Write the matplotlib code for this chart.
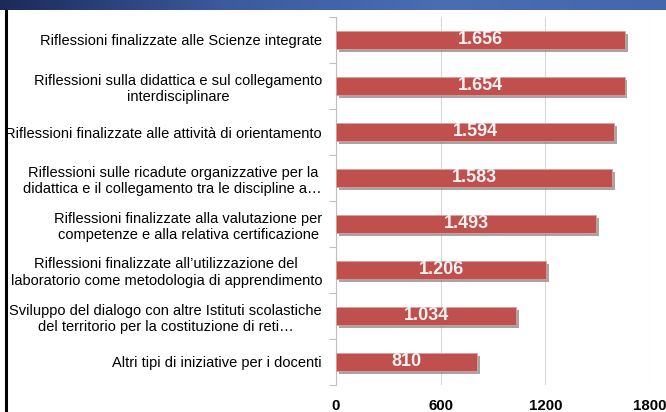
import numpy as np
import matplotlib
matplotlib.use("Agg")
from matplotlib import pyplot as plt
from matplotlib import patheffects as pe
from matplotlib.colors import LinearSegmentedColormap

categorie = [
    "Riflessioni finalizzate alle Scienze integrate",
    "Riflessioni sulla didattica e sul collegamento\ninterdisciplinare",
    "Riflessioni finalizzate alle attività di orientamento",
    "Riflessioni sulle ricadute organizzative per la\ndidattica e il collegamento tra le discipline a…",
    "Riflessioni finalizzate alla valutazione per\ncompetenze e alla relativa certificazione",
    "Riflessioni finalizzate all\u2019utilizzazione del\nlaboratorio come metodologia di apprendimento",
    "Sviluppo del dialogo con altre Istituti scolastiche\ndel territorio per la costituzione di reti…",
    "Altri tipi di iniziative per i docenti",
]
valori = [1656, 1654, 1594, 1583, 1493, 1206, 1034, 810]
x_ticks = [0, 600, 1200, 1800]

plt.rcParams['font.family'] = ['Liberation Sans', 'DejaVu Sans']

fig = plt.figure(figsize=(6.66, 4.12), dpi=100)

# banner in alto
banner = fig.add_axes([0, 1 - 10 / 412, 1, 10 / 412])
cmap = LinearSegmentedColormap.from_list("banner", ["#1b2a5a", "#3c5a9e", "#4a6db3", "#4566ab"])
banner.imshow(np.linspace(0, 1, 256).reshape(1, -1), aspect='auto', cmap=cmap)
banner.axis('off')

# bordo nero a sinistra
fig.add_artist(plt.Line2D([6 / 666, 6 / 666], [0, 1 - 10 / 412], color='black', lw=2.2,
                          transform=fig.transFigure, zorder=0))

ax = fig.add_axes([336 / 666, 1 - 385 / 412, 314 / 666, 368 / 412])
y = np.arange(len(categorie))
bars = ax.barh(y, valori, height=0.39, color='#c0504d', edgecolor='#d9a09e', linewidth=0.6, zorder=3)
for b in bars:
    b.set_path_effects([pe.SimplePatchShadow(offset=(2, -2), shadow_rgbFace='#7f7f7f', alpha=0.7),
                        pe.Normal()])

for yi, v in zip(y, valori):
    testo = "{:,}".format(v).replace(",", ".")
    ax.text(v / 2, yi, testo, ha='center', va='center', color='#f2f2f2',
            fontsize=13, fontweight='bold', zorder=4)

ax.set_ylim(len(categorie) - 0.5, -0.5)
ax.set_xlim(0, 1800)
ax.set_xticks(x_ticks)
ax.set_xticklabels([str(t) for t in x_ticks], fontsize=10.8, fontweight='bold')
ax.tick_params(axis='x', length=0, pad=10)

ax.set_yticks(y)
ax.set_yticklabels(categorie, fontsize=10.5, ha='right', multialignment='center')
ax.tick_params(axis='y', length=0, pad=10)
ax.set_yticks(np.arange(-0.5, len(categorie), 1), minor=True)
ax.tick_params(axis='y', which='minor', length=5, color='#bfbfbf', width=0.8)

ax.grid(axis='x', color='#d9d9d9', lw=0.8, zorder=0)
for s in ['top', 'right', 'bottom']:
    ax.spines[s].set_visible(False)
ax.spines['left'].set_color('#bfbfbf')
ax.spines['left'].set_linewidth(0.8)

fig.savefig("out.png", dpi=100)
